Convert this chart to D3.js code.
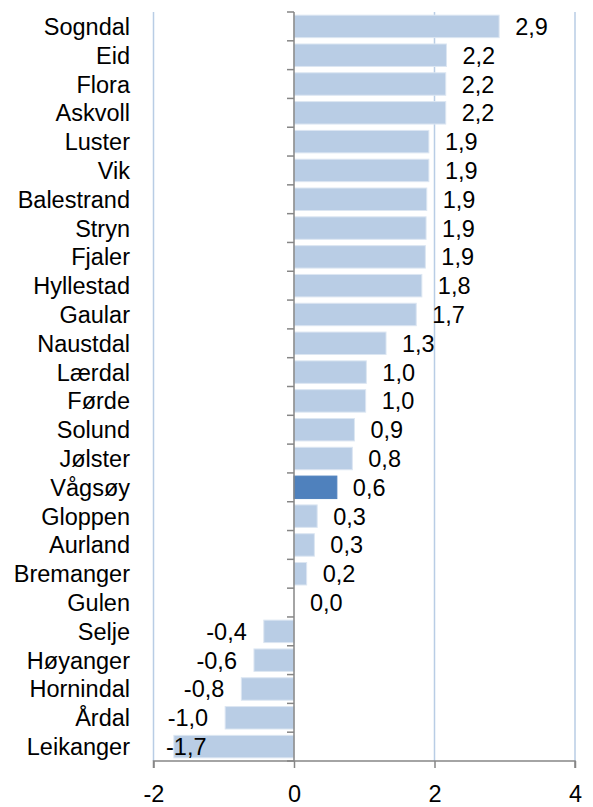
<!DOCTYPE html>
<html>
<head>
<meta charset="utf-8">
<script src="https://cdn.jsdelivr.net/npm/d3@7"></script>
<style>
  body { margin: 0; background: #fff; }
  text { font-family: "Liberation Sans", Arial, sans-serif; fill: #000; }
</style>
</head>
<body>
<svg id="chart"></svg>
<script>
const kommuner = ["Sogndal", "Eid", "Flora", "Askvoll", "Luster", "Vik", "Balestrand", "Stryn",
    "Fjaler", "Hyllestad", "Gaular", "Naustdal", "Lærdal", "Førde", "Solund", "Jølster",
    "Vågsøy", "Gloppen", "Aurland", "Bremanger", "Gulen", "Selje", "Høyanger", "Hornindal",
    "Årdal", "Leikanger"];
const verdier = [2.92, 2.17, 2.16, 2.16, 1.92, 1.92, 1.89, 1.88, 1.87, 1.82, 1.74, 1.31,
    1.03, 1.02, 0.86, 0.83, 0.61, 0.33, 0.29, 0.18, 0.0, -0.43, -0.57, -0.75, -0.98, -1.71];
const uthevet = "Vågsøy";
const xTicks = [-2, 0, 2, 4];

const svgWidth = 593, svgHeight = 807;
const margin = {top: 12, right: 18, bottom: 46, left: 153.5};
const width = svgWidth - margin.left - margin.right,
    height = svgHeight - margin.top - margin.bottom;

const chart = d3.select("#chart")
    .attr("width", svgWidth)
    .attr("height", svgHeight);

const g = chart.append("g")
    .attr("transform", `translate(${margin.left},${margin.top})`);

const xScale = d3.scaleLinear().domain([-2, 4]).range([0, width]);
const yScale = d3.scaleBand().domain(kommuner).range([0, height]).paddingInner(0.22).paddingOuter(0.11);
const fmt = v => d3.format(".1f")(v).replace(".", ",").replace("−", "-");
const fontSize = 23.5;

// gridlines
g.append("g").selectAll("line")
    .data(xTicks.filter(d => d !== 0))
    .enter().append("line")
    .attr("x1", d => xScale(d)).attr("x2", d => xScale(d))
    .attr("y1", 0).attr("y2", height)
    .attr("stroke", "#b9cde5")
    .attr("stroke-width", 1.5);

// bars
g.append("g").selectAll("rect")
    .data(kommuner)
    .enter().append("rect")
    .attr("x", (d, i) => Math.min(xScale(0), xScale(verdier[i])))
    .attr("y", d => yScale(d))
    .attr("width", (d, i) => Math.abs(xScale(verdier[i]) - xScale(0)))
    .attr("height", yScale.bandwidth())
    .attr("fill", d => d === uthevet ? "#4f81bd" : "#b9cde5")
    .attr("stroke", d => d === uthevet ? "#4f81bd" : "#dce6f2")
    .attr("stroke-width", 1);

// bottom axis
const xAxis = d3.axisBottom(xScale).tickValues(xTicks).tickSize(7).tickFormat(d => d < 0 ? "-" + Math.abs(d) : d);
const xa = g.append("g")
    .attr("transform", `translate(0,${height})`)
    .call(xAxis);
xa.select(".domain").attr("stroke", "#868686").attr("stroke-width", 1.5).attr("d", `M0,7V0H${width}V7`);
xa.selectAll(".tick line").attr("stroke", "#868686").attr("stroke-width", 1.5);
xa.selectAll(".tick text")
    .attr("y", 41)
    .attr("dy", 0)
    .style("font-size", fontSize + "px")
    .style("font-family", "'Liberation Sans', Arial, sans-serif")
    .attr("fill", "#000");

// vertical axis at 0 with category ticks
const ya = g.append("g").attr("transform", `translate(${xScale(0)},0)`);
ya.append("line")
    .attr("y1", 0).attr("y2", height)
    .attr("stroke", "#868686").attr("stroke-width", 1.5);
ya.selectAll(".ctick")
    .data(d3.range(kommuner.length + 1))
    .enter().append("line")
    .attr("class", "ctick")
    .attr("x1", -7).attr("x2", 0)
    .attr("y1", d => d * height / kommuner.length)
    .attr("y2", d => d * height / kommuner.length)
    .attr("stroke", "#868686").attr("stroke-width", 1.5);

// category labels
chart.append("g").selectAll("text")
    .data(kommuner)
    .enter().append("text")
    .attr("x", 130)
    .attr("y", d => margin.top + yScale(d) + yScale.bandwidth() / 2 + 8.5)
    .attr("text-anchor", "end")
    .style("font-size", fontSize + "px")
    .text(d => d);

// data labels
g.append("g").selectAll("text")
    .data(kommuner)
    .enter().append("text")
    .attr("x", (d, i) => verdier[i] >= 0 ? xScale(verdier[i]) + 16 : Math.max(xScale(verdier[i]) - 17, 53))
    .attr("y", d => yScale(d) + yScale.bandwidth() / 2 + 8.5)
    .attr("text-anchor", (d, i) => verdier[i] >= 0 ? "start" : "end")
    .style("font-size", fontSize + "px")
    .text((d, i) => fmt(verdier[i]));
</script>
</body>
</html>
